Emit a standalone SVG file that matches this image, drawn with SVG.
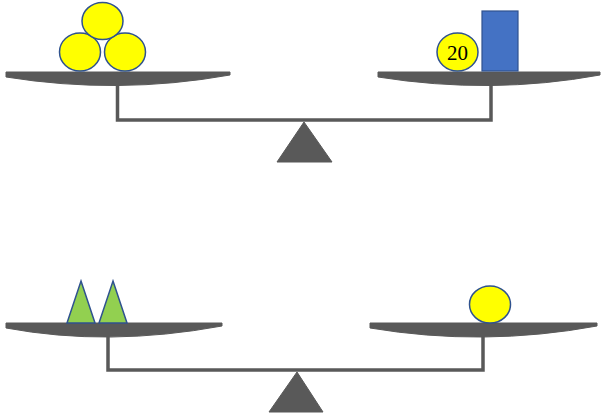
<svg xmlns="http://www.w3.org/2000/svg" width="602" height="416" viewBox="0 0 602 416">
<style>
.g{fill:#595959;stroke:#595959;stroke-width:1;stroke-linejoin:round}
.bar{fill:none;stroke:#595959;stroke-width:3.5}
.ball{fill:#FFFF00;stroke:#2F528F;stroke-width:1.5}
.tri{fill:#92D050;stroke:#2F528F;stroke-width:1.5}
.box{fill:#4472C4;stroke:#2F528F;stroke-width:1.2}
.lbl{font-family:"Liberation Serif","Times New Roman",serif;font-size:21px;fill:#000;text-anchor:middle}
</style>
<rect width="602" height="416" fill="#fff"/>
<g id="scale1">
  <g id="beam1"><path class="bar" d="M117.5,84 V120 H491 V84"/></g>
  <g id="pan1L"><path class="g" d="M6,72 H230 V75 Q118,95 6,77 Z"/></g>
  <g id="pan1R"><path class="g" d="M378,72 H600 V75 Q491,95 378,77 Z"/></g>
  <g id="fulcrum1"><polygon class="g" points="304,122 332,162 277,162"/></g>
  <g id="balls1">
    <ellipse class="ball" cx="80" cy="52" rx="20.5" ry="19"/>
    <ellipse class="ball" cx="125" cy="52" rx="20.5" ry="19"/>
    <ellipse class="ball" cx="102.5" cy="21" rx="20.5" ry="18.5"/>
  </g>
  <g id="ball20">
    <ellipse class="ball" cx="457.5" cy="52" rx="20.5" ry="19"/>
    <text class="lbl" x="457.5" y="59.5">20</text>
  </g>
  <g id="box1"><rect class="box" x="482" y="11" width="36" height="60"/></g>
</g>
<g id="scale2">
  <g id="beam2"><path class="bar" d="M108,334 V370 H483 V334"/></g>
  <g id="pan2L"><path class="g" d="M6,323 H222 V326 Q108,347 6,328 Z"/></g>
  <g id="pan2R"><path class="g" d="M370,323 H597 V326 Q483,347 370,328 Z"/></g>
  <g id="fulcrum2"><polygon class="g" points="297,372 323,412 269,412"/></g>
  <g id="tris">
    <polygon class="tri" points="81,281 95,323 67,323"/>
    <polygon class="tri" points="113,281 127,323 99,323"/>
  </g>
  <g id="ball2"><ellipse class="ball" cx="490" cy="304.5" rx="20.5" ry="18.5"/></g>
</g>
</svg>
